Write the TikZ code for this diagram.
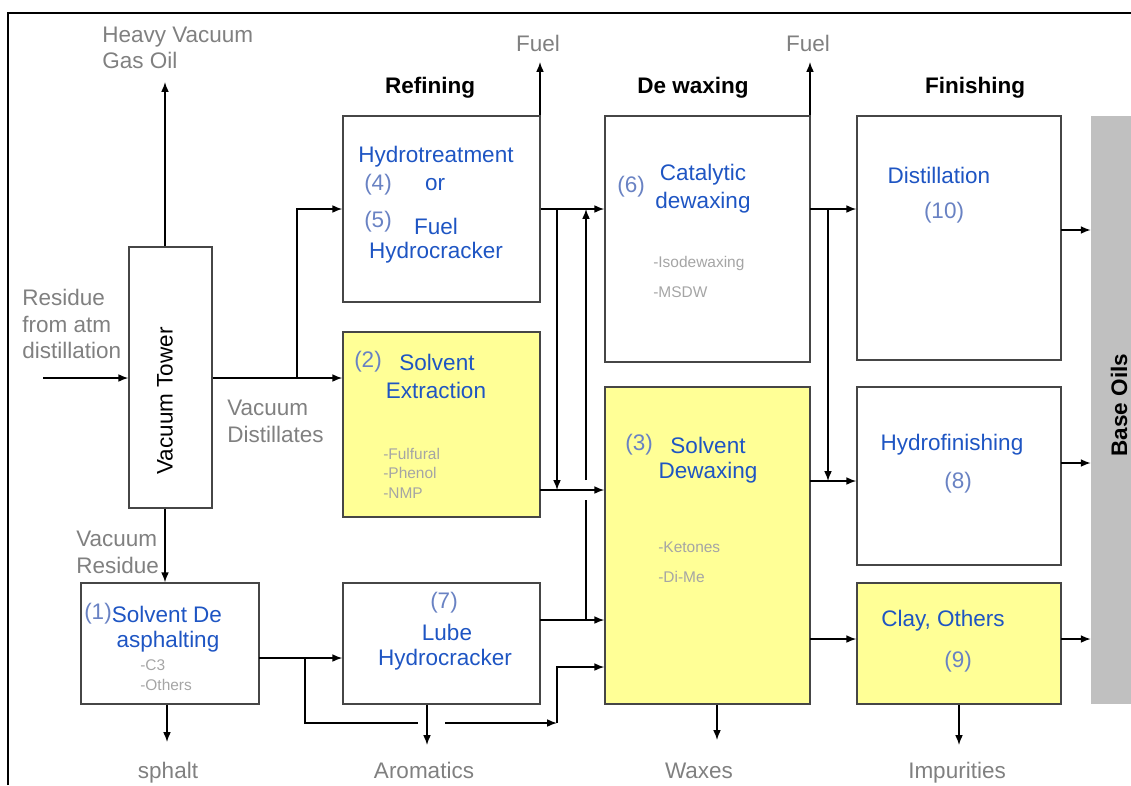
\documentclass[tikz,border=0pt]{standalone}
\usepackage{fontspec}
\setmainfont{Liberation Sans}
\usetikzlibrary{arrows.meta}
\definecolor{procblue}{RGB}{30,85,195}
\definecolor{numblue}{RGB}{105,130,195}
\definecolor{lblgray}{RGB}{128,128,128}
\definecolor{notegray}{RGB}{165,165,165}
\definecolor{boxyellow}{RGB}{255,255,150}
\definecolor{basegray}{RGB}{192,192,192}
\definecolor{edgegray}{RGB}{70,70,70}
\tikzset{
  procbox/.style={draw=edgegray, line width=1pt, inner sep=0pt},
  yelbox/.style={procbox, fill=boxyellow},
  proc/.style={text=procblue, font=\fontsize{16}{19}\selectfont, inner sep=0pt, align=center},
  num/.style={text=numblue, font=\fontsize{16}{19}\selectfont, inner sep=0pt},
  lbl/.style={text=lblgray, font=\fontsize{16}{19}\selectfont, inner sep=0pt},
  note/.style={text=notegray, font=\fontsize{11}{13}\selectfont, inner sep=0pt, anchor=west},
  head/.style={font=\fontsize{16}{19}\selectfont\bfseries, inner sep=0pt},
  flow/.style={line width=1pt},
}

\begin{document}
\begin{tikzpicture}[x=0.025cm, y=-0.025cm, >={Latex[length=7pt,width=5.5pt]}]
    \useasboundingbox (0,0) rectangle (1131,785);
    \draw [line width=2pt] (8,785) -- (8,13) -- (1131,13);

    \node [head] (hrefine) at (430,88) {Refining};
    \node [head] (hdewax) at (693,88) {De waxing};
    \node [head] (hfinish) at (975,88) {Finishing};

    % process boxes
    \node [procbox, minimum width=2.075cm, minimum height=6.525cm] (tower) at (170.5,377.5) {};
    \node [procbox, minimum width=4.925cm, minimum height=4.65cm] (hydro) at (441.5,209) {};
    \node [yelbox, minimum width=4.925cm, minimum height=4.625cm] (extr) at (441.5,424.5) {};
    \node [procbox, minimum width=4.925cm, minimum height=3.025cm] (lube) at (441.5,643.5) {};
    \node [procbox, minimum width=4.45cm, minimum height=3.025cm] (deas) at (170,643.5) {};
    \node [procbox, minimum width=5.125cm, minimum height=6.15cm] (cat) at (707.5,239) {};
    \node [yelbox, minimum width=5.125cm, minimum height=7.925cm] (sdw) at (707.5,545.5) {};
    \node [procbox, minimum width=5.1cm, minimum height=6.1cm] (dist) at (959,238) {};
    \node [procbox, minimum width=5.1cm, minimum height=4.45cm] (hfin) at (959,476) {};
    \node [yelbox, minimum width=5.1cm, minimum height=3.025cm] (clay) at (959,643.5) {};
    \node [fill=basegray, inner sep=0pt, minimum width=1cm, minimum height=14.7cm] (base) at (1111,410) {};

    % texts in boxes
    \node [rotate=90, font=\fontsize{16}{19}\selectfont, inner sep=0pt] (towertxt) at (165,401) {Vacuum Tower};
    \node [rotate=90, head] (basetxt) at (1119,405) {Base Oils};

    \node [proc] (hydroA) at (436,157) {Hydrotreatment};
    \node [num] (n4) at (378,185) {(4)};
    \node [proc] (hydroB) at (435,185) {or};
    \node [num] (n5) at (378,222) {(5)};
    \node [proc] (hydroC) at (436,226) {Fuel};
    \node [proc] (hydroD) at (436,253) {Hydrocracker};

    \node [num] (n2) at (368,362) {(2)};
    \node [proc] (extrA) at (437,362) {Solvent};
    \node [proc] (extrB) at (436,390) {Extraction};
    \node [note] (extrC) at (383,454) {-Fulfural};
    \node [note] (extrD) at (383,473) {-Phenol};
    \node [note] (extrE) at (383,493) {-NMP};

    \node [num] (n7) at (444,603) {(7)};
    \node [proc] (lubeA) at (447,632) {Lube};
    \node [proc] (lubeB) at (445,660) {Hydrocracker};

    \node [num] (n1) at (98,614) {(1)};
    \node [proc] (deasA) at (167,614) {Solvent De};
    \node [proc] (deasB) at (168,642) {asphalting};
    \node [note] (deasC) at (140,665) {-C3};
    \node [note] (deasD) at (140,685) {-Others};

    \node [num] (n6) at (631,187) {(6)};
    \node [proc] (catA) at (703,175) {Catalytic};
    \node [proc] (catB) at (703,203) {dewaxing};
    \node [note] (catC) at (653,263) {-Isodewaxing};
    \node [note] (catD) at (653,292) {-MSDW};

    \node [num] (n3) at (639,445) {(3)};
    \node [proc] (sdwA) at (708,445) {Solvent};
    \node [proc] (sdwB) at (708,473) {Dewaxing};
    \node [note] (sdwC) at (658,547) {-Ketones};
    \node [note] (sdwD) at (658,577) {-Di-Me};

    \node [proc] (distA) at (939,175) {Distillation};
    \node [num] (n10) at (944,213) {(10)};
    \node [proc] (hfinA) at (952,445) {Hydrofinishing};
    \node [num] (n8) at (958,483) {(8)};
    \node [proc] (clayA) at (943,621) {Clay, Others};
    \node [num] (n9) at (958,662) {(9)};

    % stream labels
    \node [lbl, anchor=west, align=left] (hvgo) at (102,48) {Heavy Vacuum\\Gas Oil};
    \node [lbl, anchor=west, align=left] (resid) at (22,324) {Residue\\from atm\\distillation};
    \node [lbl, anchor=west, align=left] (vdist) at (227,421) {Vacuum\\Distillates};
    \node [lbl, anchor=west, align=left] (vres) at (76,552) {Vacuum\\Residue};
    \node [lbl] (fuelAtxt) at (538,43) {Fuel};
    \node [lbl] (fuelBtxt) at (808,43) {Fuel};
    \node [lbl, anchor=base] (asph) at (168,778) {sphalt};
    \node [lbl, anchor=base] (arom) at (424,778) {Aromatics};
    \node [lbl, anchor=base] (wax) at (699,778) {Waxes};
    \node [lbl, anchor=base] (impur) at (957,778) {Impurities};

    % junctions and stream ends
    \path coordinate (hvgoend) at (165,82);
    \path coordinate (resin) at (43,378);
    \path coordinate (vd) at (297,378);
    \path coordinate (fuelA) at (540,62);
    \path coordinate (fuelB) at (810,62);
    \path coordinate (jA) at (557,209);
    \path coordinate (xo) at (540,490);
    \path coordinate (lo) at (540,620);
    \path coordinate (jB) at (586,620);
    \path coordinate (gapB1) at (586,500);
    \path coordinate (gapB2) at (586,480);
    \path coordinate (do) at (259,658);
    \path coordinate (jC) at (305,658);
    \path coordinate (jD) at (305,723);
    \path coordinate (gapC1) at (418,723);
    \path coordinate (gapC2) at (445,723);
    \path coordinate (jE) at (557,723);
    \path coordinate (jF) at (557,667);
    \path coordinate (co) at (810,209);
    \path coordinate (jG) at (828,209);
    \path coordinate (sdo) at (810,481);
    \path coordinate (so2) at (810,639);
    \path coordinate (d1) at (1061,230);
    \path coordinate (d2) at (1061,463);
    \path coordinate (d3) at (1061,639);
    \path coordinate (aspend) at (167,742);
    \path coordinate (aroend) at (427,745);
    \path coordinate (waxend) at (717,740);
    \path coordinate (impend) at (959,745);

    % streams
    \draw [flow,->] (tower.north -| hvgoend) -- (hvgoend);
    \draw [flow,->] (resin) -- (resin -| tower.west);
    \draw [flow,->] (vd -| tower.east) -- (vd -| extr.west);
    \draw [flow,->] (vd) |- (hydro.west);
    \draw [flow,->] (hydro.north -| fuelA) -- (fuelA);
    \draw [flow,->] (hydro.east) -- (cat.west |- hydro.east);
    \draw [flow,->] (jA) -- (jA |- xo);
    \draw [flow,->] (xo) -- (xo -| sdw.west);
    \draw [flow,->] (lo) -- (lo -| sdw.west);
    \draw [flow] (jB) -- (gapB1);
    \draw [flow,->] (gapB2) -- (jB |- hydro.east);
    \draw [flow,->] (tower.south -| hvgoend) -- (deas.north -| hvgoend);
    \draw [flow,->] (do) -- (do -| lube.west);
    \draw [flow] (jC) -- (jD) -- (gapC1);
    \draw [flow,->] (gapC2) -- (jE);
    \draw [flow,->] (jE) -- (jF) -- (jF -| sdw.west);
    \draw [flow,->] (deas.south -| aspend) -- (aspend);
    \draw [flow,->] (lube.south -| aroend) -- (aroend);
    \draw [flow,->] (sdw.south -| waxend) -- (waxend);
    \draw [flow,->] (clay.south -| impend) -- (impend);
    \draw [flow,->] (cat.north -| fuelB) -- (fuelB);
    \draw [flow,->] (co) -- (co -| dist.west);
    \draw [flow,->] (jG) -- (jG |- sdo);
    \draw [flow,->] (sdo) -- (sdo -| hfin.west);
    \draw [flow,->] (so2) -- (so2 -| clay.west);
    \draw [flow,->] (d1) -- (d1 -| base.west);
    \draw [flow,->] (d2) -- (d2 -| base.west);
    \draw [flow,->] (d3) -- (d3 -| base.west);
\end{tikzpicture}
\end{document}
